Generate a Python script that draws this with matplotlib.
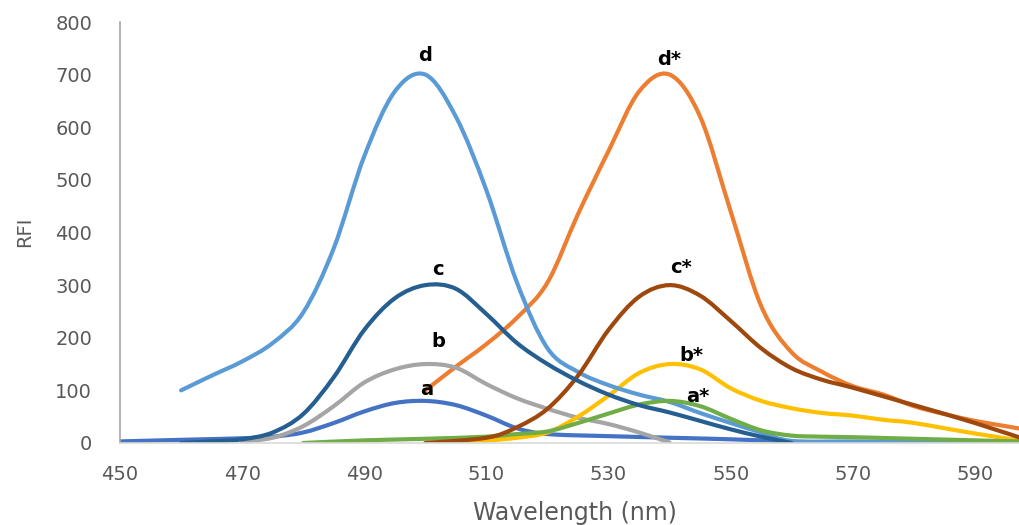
import numpy as np
import matplotlib
matplotlib.use("Agg")
import matplotlib.pyplot as plt
from matplotlib.path import Path
from matplotlib.patches import PathPatch

plt.rcParams["font.family"] = "DejaVu Sans"

# spectra (wavelength in nm, RFI)
wl_a = [450, 460, 470, 475, 480, 485, 490, 495, 500, 505, 510, 515, 520, 530, 540, 550, 560]
rfi_a = [3, 6, 9, 12, 20, 38, 60, 76, 80, 72, 52, 28, 17, 13, 10, 7, 3]

wl_b = [470, 475, 480, 485, 490, 495, 500, 505, 510, 515, 520, 525, 530, 535, 540]
rfi_b = [3, 10, 32, 70, 115, 140, 150, 143, 112, 85, 65, 48, 36, 20, 1]

wl_c = [460, 465, 470, 475, 480, 485, 490, 495, 500, 505, 510, 515, 520, 525, 530,
        535, 540, 545, 550, 555, 560]
rfi_c = [0, 3, 7, 20, 55, 125, 215, 275, 300, 293, 245, 190, 150, 118, 92,
         72, 58, 42, 26, 12, 0]

wl_d = [460, 465, 470, 475, 480, 485, 490, 495, 500, 505, 510, 515, 520, 525, 530,
        535, 540, 545, 550, 555, 560, 570, 580, 590, 600]
rfi_d = [100, 128, 155, 190, 248, 370, 545, 668, 700, 620, 480, 305, 180, 135, 110,
         92, 78, 57, 38, 20, 4, 3, 2, 2, 2]

wl_as = [480, 490, 500, 510, 515, 520, 525, 530, 535, 540, 545, 550, 555, 560, 565,
         570, 580, 590, 600]
rfi_as = [0, 5, 8, 12, 17, 22, 38, 56, 73, 80, 70, 46, 24, 14, 12,
          11, 8, 5, 2]

wl_bs = [500, 510, 515, 520, 525, 530, 535, 540, 545, 550, 555, 560, 565, 570, 575,
         580, 590, 600]
rfi_bs = [0, 5, 10, 20, 50, 90, 133, 150, 140, 104, 80, 66, 57, 52, 44,
          38, 18, 0]

wl_cs = [500, 510, 515, 520, 525, 530, 535, 540, 545, 550, 555, 560, 565, 570, 580,
         590, 600]
rfi_cs = [0, 10, 30, 65, 128, 215, 278, 300, 280, 232, 180, 142, 120, 105, 72,
          38, 0]

wl_ds = [500, 505, 510, 515, 520, 525, 530, 535, 540, 545, 550, 555, 560, 565, 570,
         575, 580, 585, 590, 595, 600]
rfi_ds = [100, 145, 188, 238, 305, 435, 555, 668, 700, 620, 440, 260, 172, 135, 108,
          92, 70, 55, 42, 32, 22]

labels = ["a", "b", "c", "d", "a*", "b*", "c*", "d*"]
label_x = [500.2, 502.1, 502.1, 500.0, 544.6, 543.5, 541.9, 539.9]
label_y = [101, 192, 329, 737, 89, 167, 333, 728]


def smooth_path(x, y):
    # excel-style smoothed line: cubic bezier through the points
    pts = np.column_stack([x, y]).astype(float)
    n = len(pts)
    verts = [pts[0]]
    codes = [Path.MOVETO]
    for i in range(n - 1):
        p0 = pts[max(i - 1, 0)]
        p1 = pts[i]
        p2 = pts[i + 1]
        p3 = pts[min(i + 2, n - 1)]
        verts += [p1 + (p2 - p0) / 6, p2 - (p3 - p1) / 6, p2]
        codes += [Path.CURVE4] * 3
    return Path(verts, codes)


fig = plt.figure(figsize=(10.19, 5.25), dpi=100)
ax = fig.add_axes([120 / 1019, 1 - 443 / 525, 899 / 1019, 421 / 525])

series = [
    (wl_a, rfi_a, "#4472C4"),
    (wl_ds, rfi_ds, "#ED7D31"),
    (wl_b, rfi_b, "#A5A5A5"),
    (wl_bs, rfi_bs, "#FFC000"),
    (wl_d, rfi_d, "#5B9BD5"),
    (wl_as, rfi_as, "#70AD47"),
    (wl_cs, rfi_cs, "#9E480E"),
    (wl_c, rfi_c, "#255E91"),
]
for x, y, col in series:
    ax.add_patch(PathPatch(smooth_path(x, y), fill=False, edgecolor=col,
                           lw=3, capstyle="round", joinstyle="round"))

for lab, lx, ly in zip(labels, label_x, label_y):
    ax.text(lx, ly, lab, fontsize=14, fontweight="bold", color="black",
            ha="center", va="center")

ax.set_xlim(450, 450 + 899 / 6.107)
ax.set_ylim(0, 800)
ax.set_xticks(np.arange(450, 600, 20))
ax.set_yticks(np.arange(0, 801, 100))

for s in ["top", "right"]:
    ax.spines[s].set_visible(False)
ax.spines["left"].set_color("#A6A6A6")
ax.spines["bottom"].set_color("#D9D9D9")
ax.spines["left"].set_linewidth(1.2)
ax.spines["bottom"].set_linewidth(1.2)

ax.tick_params(axis="both", length=0, colors="#595959")
ax.tick_params(axis="y", labelsize=14, pad=20)
ax.tick_params(axis="x", labelsize=14, pad=16)

ax.set_xlabel("Wavelength (nm)", fontsize=17, color="#595959")
ax.set_ylabel("RFI", fontsize=14, color="#595959")
ax.xaxis.set_label_coords(0.506, -0.137)
ax.yaxis.set_label_coords(-0.096, 0.501)

fig.savefig("out.png", dpi=100)
